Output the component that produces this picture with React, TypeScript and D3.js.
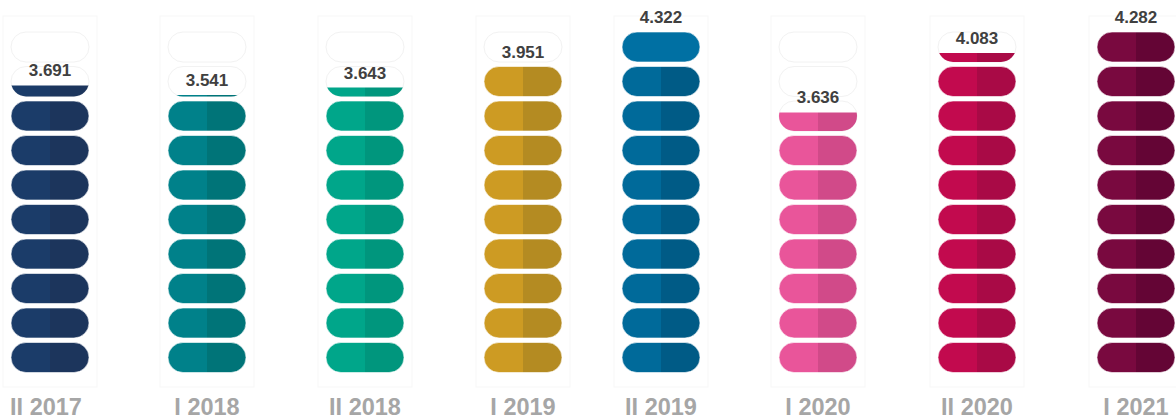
import React from "react";
import * as d3 from "d3";

// ---- data ----
const categories = ["II 2017", "I 2018", "II 2018", "I 2019", "II 2019", "I 2020", "II 2020", "I 2021"];
const values = [3.691, 3.541, 3.643, 3.951, 4.322, 3.636, 4.083, 4.282];
const valueLabels = ["3.691", "3.541", "3.643", "3.951", "4.322", "3.636", "4.083", "4.282"];
// number of pills filled in each column (out of 10), as drawn
const pillsFilled = [8.37, 8.05, 8.3, 9.0, 10, 7.62, 9.3, 10];

// ---- styles / layout ----
const leftColors = ["#1b3c69", "#00818a", "#00a68a", "#cd9b23", "#006a9a", "#e9559a", "#c20a4e", "#79093f"];
const rightColors = ["#1c355c", "#007478", "#00967d", "#b48b22", "#005b86", "#d14a89", "#a90a46", "#640535"];
const uniformTop = [null, null, null, null, "#0070a3", null, null, null];
const centers = [50, 207, 365, 523, 661, 818, 977, 1136];

const W = 1176;
const H = 419;
const SLOTS = 10;
const PILL_W = 78;
const PILL_H = 30;

export default function App() {
  const y = d3.scaleLinear().domain([0, SLOTS]).range([372.5, 27.5]);

  return (
    <svg
      width={W}
      height={H}
      style={{ position: "fixed", left: 0, top: 0, background: "#fff" }}
      fontFamily="'Liberation Sans', Arial, sans-serif"
    >
      <defs>
        {categories.map((c, i) => (
          <linearGradient key={c} id={`g${i}`} x1="0" x2="1" y1="0" y2="0">
            <stop offset="0" stopColor={leftColors[i]} />
            <stop offset="0.5" stopColor={leftColors[i]} />
            <stop offset="0.5" stopColor={rightColors[i]} />
            <stop offset="1" stopColor={rightColors[i]} />
          </linearGradient>
        ))}
        {categories.map((c, i) => {
          const n = pillsFilled[i];
          const k = Math.floor(n);
          const f = n - k;
          if (f <= 0 || k >= SLOTS) return null;
          const bottom = y(k);
          return (
            <clipPath key={c} id={`clip${i}`}>
              <rect x={centers[i] - PILL_W / 2 - 2} y={bottom - f * PILL_H} width={PILL_W + 4} height={f * PILL_H + 1} />
            </clipPath>
          );
        })}
      </defs>

      {categories.map((c, i) => {
        const cx = centers[i];
        const n = pillsFilled[i];
        const full = Math.floor(n);
        const frac = n - full;
        const slots = d3.range(SLOTS);
        const topY = frac > 0 ? y(full) - frac * PILL_H : y(full - 1) - PILL_H;
        return (
          <g key={c}>
            {/* faint plot frame */}
            <rect x={cx - 47} y={16} width={94} height={371} fill="none" stroke="#f7f7f7" strokeWidth={1} />
            {/* ghost pills */}
            {slots
              .filter((k) => k >= full)
              .map((k) => (
                <rect
                  key={`gh${k}`}
                  x={cx - PILL_W / 2}
                  y={y(k) - PILL_H}
                  width={PILL_W}
                  height={PILL_H}
                  rx={PILL_H / 2}
                  fill="#fff"
                  stroke="#f2f2f2"
                  strokeWidth={1}
                />
              ))}
            {/* filled pills */}
            {slots
              .filter((k) => k < full)
              .map((k) => (
                <rect
                  key={`p${k}`}
                  x={cx - PILL_W / 2}
                  y={y(k) - PILL_H}
                  width={PILL_W}
                  height={PILL_H}
                  rx={PILL_H / 2}
                  fill={k === SLOTS - 1 && uniformTop[i] ? uniformTop[i] : `url(#g${i})`}
                  stroke="#ffffff"
                  strokeOpacity={0.6}
                  strokeWidth={1}
                />
              ))}
            {frac > 0 && full < SLOTS && (
              <rect
                x={cx - PILL_W / 2}
                y={y(full) - PILL_H}
                width={PILL_W}
                height={PILL_H}
                rx={PILL_H / 2}
                fill={`url(#g${i})`}
                clipPath={`url(#clip${i})`}
              />
            )}
            {/* value label */}
            <text
              x={cx}
              y={topY - 9}
              textAnchor="middle"
              fontSize={17}
              fontWeight="bold"
              fill="#404040"
            >
              {valueLabels[i]}
            </text>
            {/* category label */}
            <text
              x={cx - (i === 0 ? 4 : 0)}
              y={415}
              textAnchor="middle"
              fontSize={23.5}
              fontWeight="bold"
              fill="#a6a6a6"
            >
              {c}
            </text>
          </g>
        );
      })}
    </svg>
  );
}
